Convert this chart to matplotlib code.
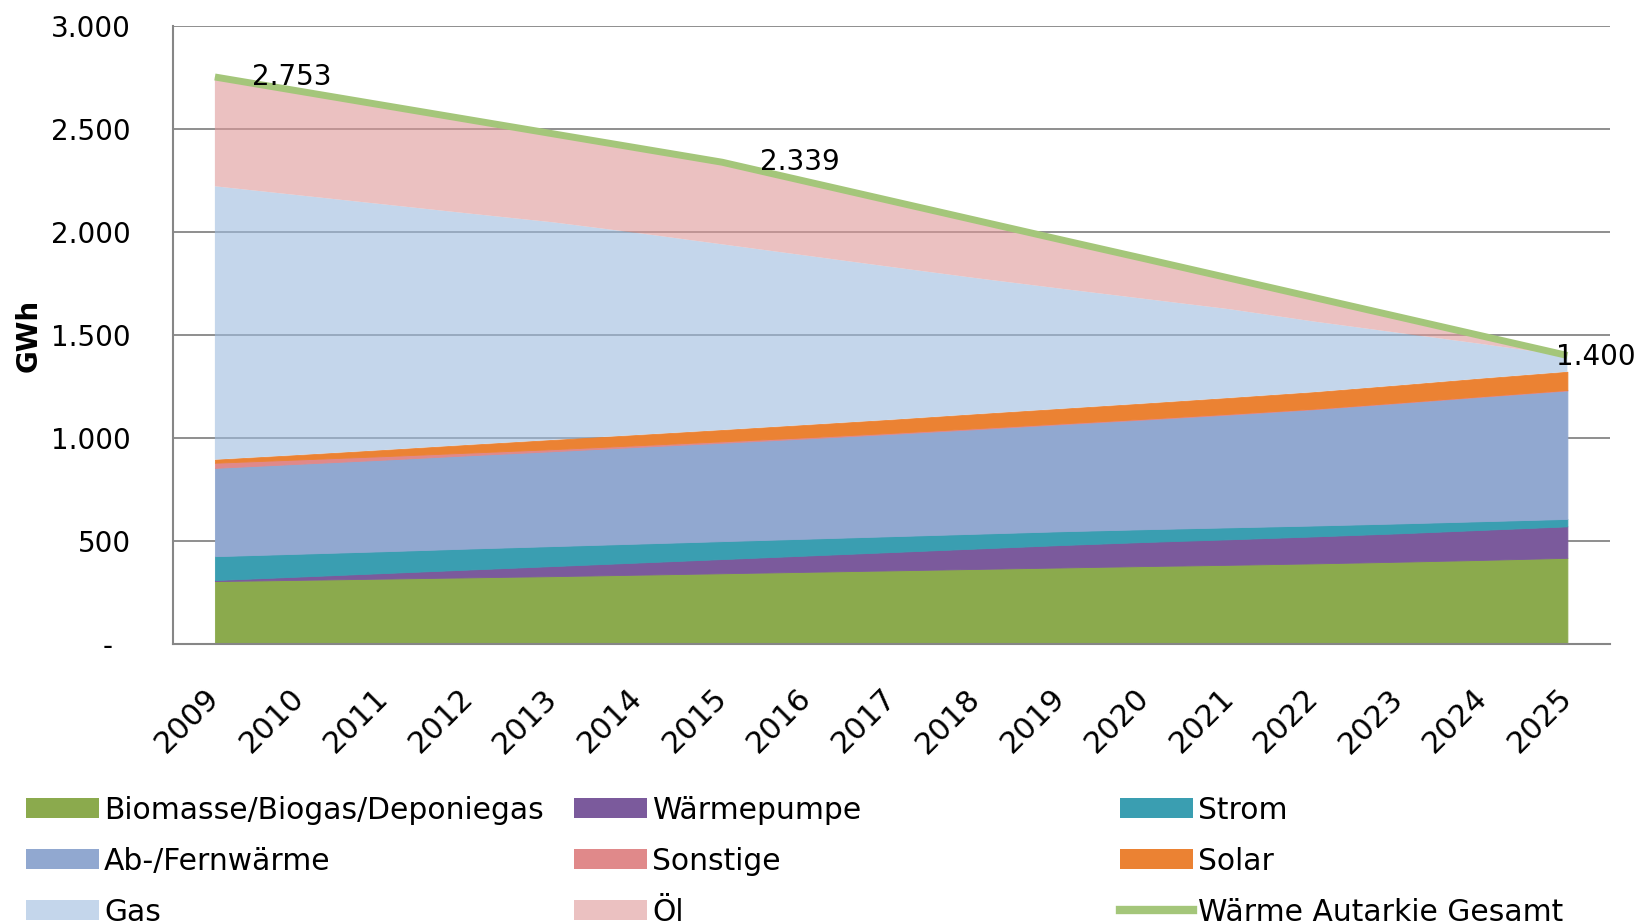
import numpy as np
import matplotlib.pyplot as plt
from matplotlib.patches import Patch
from matplotlib.lines import Line2D

plt.rcParams['font.family'] = ['DejaVu Sans']

years = ['2009', '2010', '2011', '2012', '2013', '2014', '2015', '2016', '2017',
         '2018', '2019', '2020', '2021', '2022', '2023', '2024', '2025']

# GWh pro Jahr, von unten nach oben gestapelt
biomasse = [304, 310, 316, 322, 328, 335, 342, 349, 356, 363, 370, 377, 383, 390, 398, 407, 417]
waermepumpe = [5, 16, 27, 38, 49, 59, 69, 79, 89, 99, 109, 117, 124, 131, 138, 146, 153]
strom = [116, 111, 106, 102, 97, 92, 87, 82, 77, 72, 67, 62, 58, 53, 48, 42, 36]
fernwaerme = [429, 437, 445, 453, 461, 470, 478, 487, 497, 508, 520, 533, 548, 565, 585, 605, 624]
sonstige = [25, 21, 17, 13, 10, 8, 7, 6, 5, 5, 4, 4, 4, 3, 3, 3, 3]
solar = [15, 22, 30, 38, 45, 50, 55, 60, 64, 68, 71, 74, 77, 80, 83, 86, 88]
gas = [1328, 1261, 1193, 1124, 1057, 981, 902, 822, 742, 661, 584, 508, 431, 343, 255, 166, 76]
oel = [531, 506, 481, 456, 430, 413, 399, 360, 321, 281, 238, 195, 151, 117, 78, 39, 3]
gesamt = [2753, 2684, 2615, 2546, 2477, 2408, 2339, 2245, 2151, 2057, 1963, 1870, 1776, 1682, 1588, 1494, 1400]

labels = ['Biomasse/Biogas/Deponiegas', 'Wärmepumpe', 'Strom', 'Ab-/Fernwärme',
          'Sonstige', 'Solar', 'Gas', 'Öl']
colors = ['#8BAA4D', '#7B5A9C', '#3A9EB1', '#91A8D0', '#E0898A', '#EB8233', '#9EBBDE', '#DE9898']
alphas = [1, 1, 1, 1, 1, 1, 0.6, 0.6]
line_color = '#A4C67A'

yticks = [0, 500, 1000, 1500, 2000, 2500, 3000]
ytick_labels = ['-  ', '500', '1.000', '1.500', '2.000', '2.500', '3.000']

# Datenbeschriftungen: (Jahr-Index, Wert, Versatz in pt)
point_labels = [(0, '2.753', 27, 0), (6, '2.339', 27, 0), (16, '1.400', -8, -1)]

fig = plt.figure(figsize=(16.41, 9.24), dpi=100)
ax = fig.add_axes([0.1052, 0.3034, 0.8757, 0.6683])

x = np.arange(len(years))
series = [biomasse, waermepumpe, strom, fernwaerme, sonstige, solar, gas, oel]
bottom = np.zeros(len(years))
for vals, c, a in zip(series, colors, alphas):
    top = bottom + np.array(vals)
    ax.fill_between(x, bottom, top, color=c, alpha=a, linewidth=0.6,
                    edgecolor=c if a == 1 else 'none', zorder=2)
    bottom = top

ax.plot(x, gesamt, color=line_color, linewidth=5, zorder=4, solid_capstyle='butt')

for i, txt, dx, dy in point_labels:
    ax.annotate(txt, (x[i], gesamt[i]), xytext=(dx, dy), textcoords='offset points',
                ha='left', va='center', fontsize=20, color='black', zorder=5)

ax.set_xlim(-0.5, len(years) - 0.5)
ax.set_ylim(0, 3000)
ax.set_yticks(yticks)
ax.set_yticklabels(ytick_labels, fontsize=20)
ax.set_xticks(x)
ax.set_xticklabels(years, fontsize=22, rotation=45, ha='right', va='center',
                   rotation_mode='anchor')
ax.tick_params(axis='y', length=0, pad=30)
ax.tick_params(axis='x', length=0, pad=36)

ax.grid(axis='y', color='#868686', linewidth=1.3, zorder=1)
ax.set_axisbelow(True)
for s in ['top', 'right']:
    ax.spines[s].set_visible(False)
for s in ['left', 'bottom']:
    ax.spines[s].set_color('#868686')
    ax.spines[s].set_linewidth(1.5)
    ax.spines[s].set_zorder(3)

fig.text(29 / 1641, 1 - 335 / 924, 'GWh', rotation=90, fontsize=20,
         fontweight='bold', ha='center', va='center')

# Legende in drei Spalten wie im Original
def patch(i):
    return Patch(facecolor=colors[i], alpha=alphas[i], edgecolor='none', label=labels[i])

line_handle = Line2D([], [], color=line_color, linewidth=6, label='Wärme Autarkie Gesamt')
columns = [
    [patch(0), patch(3), patch(6)],
    [patch(1), patch(4), patch(7)],
    [patch(2), patch(5), line_handle],
]
col_x = [26 / 1641, 574 / 1641, 1120 / 1641]
for hx, handles in zip(col_x, columns):
    fig.legend(handles=handles, loc='upper left', bbox_to_anchor=(hx, 0.139),
               frameon=False, fontsize=21.4, handlelength=2.45, handleheight=0.67,
               handletextpad=0.18, labelspacing=0.74, borderpad=0, borderaxespad=0)

fig.savefig('out.png', dpi=100)
